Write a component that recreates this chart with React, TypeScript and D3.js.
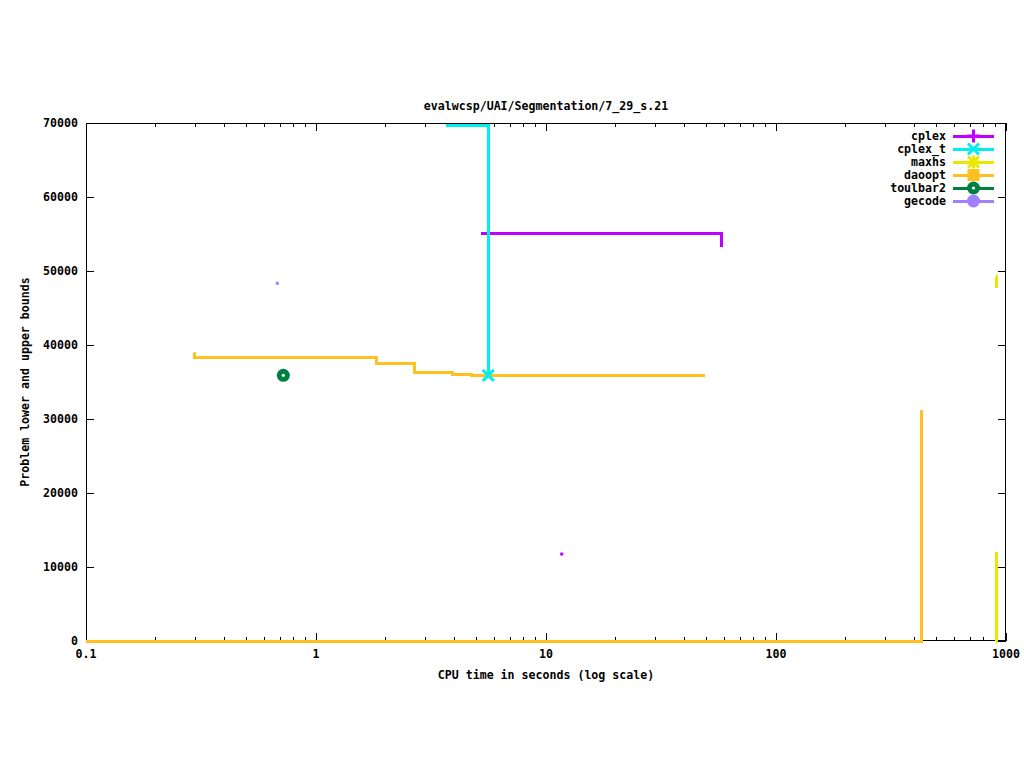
import React, { useEffect, useRef } from "react";
import * as d3 from "d3";

// Series data: time (s) and bound value, drawn as step-after lines
const cplexUpperTime = [5.22, 58.2];
const cplexUpperValue = [55100, 53200];
const cplexLowerTime = [11.7];
const cplexLowerValue = [11750];

const cplexTUpperTime = [3.67, 5.61];
const cplexTUpperValue = [69700, 35900];

const maxhsUpperTime = [907, 907.6];
const maxhsUpperValue = [49200, 47700];
const maxhsLowerTime = [907, 907.6];
const maxhsLowerValue = [0, 12000];

const daooptUpperTime = [0.2948, 0.295, 1.836, 2.676, 3.93, 4.72, 49.1];
const daooptUpperValue = [38900, 38250, 37450, 36250, 36050, 35900, 35900];
const daooptLowerTime = [0.1, 428];
const daooptLowerValue = [0, 31200];

const toulbar2Time = [0.721];
const toulbar2Value = [35900];

const gecodeTime = [0.679];
const gecodeValue = [48340];

const seriesNames = ["cplex", "cplex_t", "maxhs", "daoopt", "toulbar2", "gecode"];
const seriesColors = ["#c000ff", "#00eeee", "#e8e800", "#ffc020", "#008040", "#a080ff"];
const seriesMarkers = ["plus", "cross", "star", "square", "ring", "circle"];

const xTickValues = [0.1, 1, 10, 100, 1000];
const xTickLabels = ["0.1", "1", "10", "100", "1000"];
const yTickValues = [0, 10000, 20000, 30000, 40000, 50000, 60000, 70000];

const titleText = "evalwcsp/UAI/Segmentation/7_29_s.21";
const xLabelText = "CPU time in seconds (log scale)";
const yLabelText = "Problem lower and upper bounds";

type Pt = [number, number];
const zip = (t: number[], v: number[]): Pt[] => t.map((d, i) => [d, v[i]]);

const App: React.FC = () => {
  const svgRef = useRef<SVGSVGElement | null>(null);

  useEffect(() => {
    if (!svgRef.current) return;
    const svg = d3.select(svgRef.current);
    svg.selectAll("*").remove();

    const width = 1024;
    const height = 768;
    const margin = { top: 123, right: 18, bottom: 127, left: 86 };
    const font = "'DejaVu Sans Mono', 'Liberation Mono', monospace";

    svg.attr("width", width).attr("height", height);
    svg.append("rect").attr("width", width).attr("height", height).attr("fill", "#fff");

    const x = d3
      .scaleLog()
      .domain([0.1, 1000])
      .range([margin.left, width - margin.right]);
    const y = d3
      .scaleLinear()
      .domain([0, 70000])
      .range([height - margin.bottom, margin.top]);

    const x0 = margin.left;
    const x1 = width - margin.right;
    const y0 = height - margin.bottom;
    const y1 = margin.top;

    // Border
    svg
      .append("rect")
      .attr("x", x0 + 0.5)
      .attr("y", y1 + 0.5)
      .attr("width", x1 - x0 - 1)
      .attr("height", y0 - y1 - 1)
      .attr("fill", "none")
      .attr("stroke", "#000")
      .attr("shape-rendering", "crispEdges");

    // Ticks (mirrored on both sides)
    const axis = svg.append("g").attr("stroke", "#000").attr("shape-rendering", "crispEdges");
    const minor: number[] = [];
    [0.1, 1, 10, 100].forEach((dec) => {
      for (let k = 2; k <= 9; k++) minor.push(dec * k);
    });
    xTickValues.forEach((d) => {
      axis.append("line").attr("x1", x(d)).attr("x2", x(d)).attr("y1", y0).attr("y2", y0 - 8);
      axis.append("line").attr("x1", x(d)).attr("x2", x(d)).attr("y1", y1).attr("y2", y1 + 8);
    });
    minor.forEach((d) => {
      axis.append("line").attr("x1", x(d)).attr("x2", x(d)).attr("y1", y0).attr("y2", y0 - 4);
      axis.append("line").attr("x1", x(d)).attr("x2", x(d)).attr("y1", y1).attr("y2", y1 + 4);
    });
    yTickValues.forEach((d) => {
      axis.append("line").attr("x1", x0).attr("x2", x0 + 8).attr("y1", y(d)).attr("y2", y(d));
      axis.append("line").attr("x1", x1).attr("x2", x1 - 8).attr("y1", y(d)).attr("y2", y(d));
    });

    // Tick labels
    const labels = svg
      .append("g")
      .attr("font-family", font)
      .attr("font-size", "11.6px")
      .attr("font-weight", "bold")
      .attr("fill", "#000");
    xTickValues.forEach((d, i) => {
      labels
        .append("text")
        .attr("x", x(d))
        .attr("y", y0 + 17)
        .attr("text-anchor", "middle")
        .text(xTickLabels[i]);
    });
    yTickValues.forEach((d) => {
      labels
        .append("text")
        .attr("x", x0 - 8)
        .attr("y", y(d) + 4)
        .attr("text-anchor", "end")
        .text(String(d));
    });
    labels
      .append("text")
      .attr("x", (x0 + x1) / 2)
      .attr("y", 110)
      .attr("text-anchor", "middle")
      .text(titleText);
    labels
      .append("text")
      .attr("x", (x0 + x1) / 2)
      .attr("y", 679)
      .attr("text-anchor", "middle")
      .text(xLabelText);
    labels
      .append("text")
      .attr("transform", `translate(29, ${(y0 + y1) / 2}) rotate(-90)`)
      .attr("text-anchor", "middle")
      .text(yLabelText);

    // Data lines
    const line = d3
      .line<Pt>()
      .x((d) => x(d[0]))
      .y((d) => y(d[1]))
      .curve(d3.curveStepAfter);

    const plot = svg.append("g");
    const drawLine = (pts: Pt[], color: string) => {
      plot
        .append("path")
        .datum(pts)
        .attr("fill", "none")
        .attr("stroke", color)
        .attr("stroke-width", 3)
        .attr("shape-rendering", "crispEdges")
        .attr("d", line);
    };
    const drawDot = (pts: Pt[], color: string) => {
      pts.forEach((p) => {
        plot
          .append("rect")
          .attr("x", x(p[0]) - 1.5)
          .attr("y", y(p[1]) - 1.5)
          .attr("width", 3)
          .attr("height", 3)
          .attr("fill", color);
      });
    };

    drawLine(zip(cplexUpperTime, cplexUpperValue), seriesColors[0]);
    drawDot(zip(cplexLowerTime, cplexLowerValue), seriesColors[0]);
    drawLine(zip(maxhsUpperTime, maxhsUpperValue), seriesColors[2]);
    drawLine(zip(maxhsLowerTime, maxhsLowerValue), seriesColors[2]);
    drawLine(zip(daooptUpperTime, daooptUpperValue), seriesColors[3]);
    drawLine(zip(daooptLowerTime, daooptLowerValue), seriesColors[3]);
    drawLine(zip(cplexTUpperTime, cplexTUpperValue), seriesColors[1]);
    drawDot(zip(gecodeTime, gecodeValue), seriesColors[5]);

    // Marker drawing
    const drawMarker = (g: d3.Selection<SVGGElement, unknown, null, undefined>, type: string, cx: number, cy: number, color: string) => {
      const s = 6.5;
      const strokeLine = (ax: number, ay: number, bx: number, by: number) =>
        g
          .append("line")
          .attr("x1", ax)
          .attr("y1", ay)
          .attr("x2", bx)
          .attr("y2", by)
          .attr("stroke", color)
          .attr("stroke-width", 3);
      if (type === "plus" || type === "star") {
        strokeLine(cx - s, cy, cx + s, cy);
        strokeLine(cx, cy - s, cx, cy + s);
      }
      if (type === "cross" || type === "star") {
        strokeLine(cx - s + 1, cy - s + 1, cx + s - 1, cy + s - 1);
        strokeLine(cx - s + 1, cy + s - 1, cx + s - 1, cy - s + 1);
      }
      if (type === "square") {
        g.append("rect")
          .attr("x", cx - 6)
          .attr("y", cy - 6)
          .attr("width", 12)
          .attr("height", 12)
          .attr("fill", color);
      }
      if (type === "circle" || type === "ring") {
        g.append("circle").attr("cx", cx).attr("cy", cy).attr("r", 6.5).attr("fill", color);
      }
      if (type === "ring") {
        g.append("circle").attr("cx", cx).attr("cy", cy).attr("r", 1.6).attr("fill", "#fff");
      }
    };

    const markers = svg.append("g");
    const tEnd = cplexTUpperTime.length - 1;
    drawMarker(markers, "cross", x(cplexTUpperTime[tEnd]), y(cplexTUpperValue[tEnd]), seriesColors[1]);
    toulbar2Time.forEach((t, i) => {
      drawMarker(markers, "ring", x(t), y(toulbar2Value[i]), seriesColors[4]);
    });

    // Legend
    const legend = svg.append("g");
    seriesNames.forEach((name, i) => {
      const ly = 136 + i * 13;
      legend
        .append("text")
        .attr("x", 946)
        .attr("y", ly + 4)
        .attr("text-anchor", "end")
        .attr("font-family", font)
        .attr("font-size", "11.6px")
        .attr("font-weight", "bold")
        .text(name);
      legend
        .append("line")
        .attr("x1", 953)
        .attr("x2", 994)
        .attr("y1", ly)
        .attr("y2", ly)
        .attr("stroke", seriesColors[i])
        .attr("stroke-width", 3)
        .attr("shape-rendering", "crispEdges");
      drawMarker(legend, seriesMarkers[i], 973.5, ly, seriesColors[i]);
    });
  }, []);

  return (
    <div style={{ position: "absolute", left: 0, top: 0, width: 1024, height: 768 }}>
      <svg ref={svgRef} style={{ display: "block" }} />
    </div>
  );
};

export default App;
